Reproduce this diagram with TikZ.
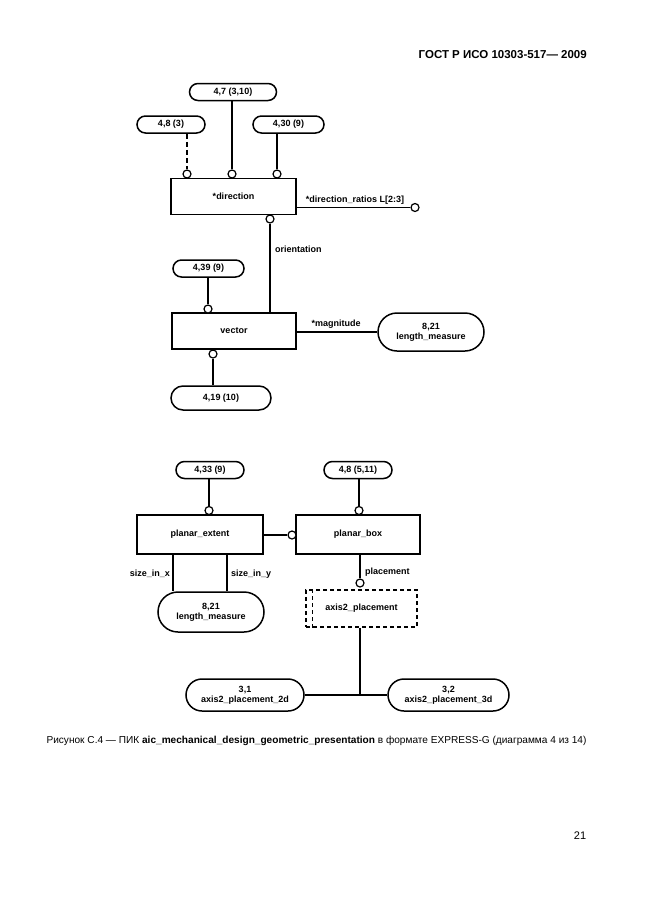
\documentclass[tikz,border=0pt]{standalone}
\usepackage{fontspec}
\setmainfont{Liberation Sans}
\usetikzlibrary{shapes.misc}
\definecolor{gostblack}{RGB}{0,0,0}

\begin{document}
\begin{tikzpicture}[x=1pt, y=-1pt, gostblack,
    ent/.style={draw, line width=1.5pt, rectangle, minimum width=125pt, minimum height=36pt,
                font=\fontsize{9}{10}\selectfont\bfseries},
    refbox/.style={draw, line width=1.5pt, rounded rectangle, minimum height=17pt, inner sep=1pt,
                   align=center, font=\fontsize{9}{10}\selectfont\bfseries},
    oc/.style={draw, line width=1.2pt, circle, fill=white, minimum size=8pt, inner sep=0pt},
    rel/.style={line width=1.2pt},
    thinrel/.style={line width=0.8pt},
    thickrel/.style={line width=2.8pt},
    lbl/.style={inner sep=1pt, font=\fontsize{9}{10}\selectfont\bfseries}]
    \useasboundingbox (0,0) rectangle (646,913);

    % Header
    \node[anchor=east, inner sep=0pt, font=\fontsize{11.5}{13}\selectfont\bfseries] (head) at (587,55) {ГОСТ Р ИСО 10303-517— 2009};

    % direction
    \node[refbox, minimum width=89pt] (r47) at (233,92) {4,7 (3,10)};
    \node[refbox, minimum width=70pt] (r48) at (171,124.5) {4,8 (3)};
    \node[refbox, minimum width=73pt] (r430) at (288.5,124.5) {4,30 (9)};
    \node[ent] (dir) at (233.5,196.5) {*direction};
    \node[oc] (cd1) at (187,174) {};
    \node[oc] (cd2) at (232,174) {};
    \node[oc] (cd3) at (277,174) {};
    \draw[rel, dash pattern=on 5pt off 3pt] (r48.south -| cd1) -- (cd1.north);
    \draw[rel] (r47.south -| cd2) -- (cd2.north);
    \draw[thickrel] (r430.south -| cd3) -- (cd3.north);
    \node[oc] (cdr) at (415,207.5) {};
    \draw[thinrel] (dir.east |- cdr) -- (cdr.west);
    \node[lbl] (ldr) at (355,200) {*direction\_ratios L[2:3]};

    % vector
    \node[oc] (cor) at (270,219) {};
    \node[refbox, minimum width=73pt] (r439) at (208.5,268.5) {4,39 (9)};
    \node[ent, minimum width=124pt] (vec) at (234,331) {vector};
    \draw[rel] (cor.south) -- (vec.north -| cor);
    \node[lbl, anchor=west] (lor) at (274,249) {orientation};
    \node[oc] (cv1) at (208,309) {};
    \draw[thickrel] (r439.south -| cv1) -- (cv1.north);
    \node[refbox, minimum width=108pt, minimum height=38pt] (lm1) at (431,332) {8,21\\length\_measure};
    \draw[rel] (vec.east |- lm1) -- (lm1.west);
    \node[lbl] (lmag) at (336,324) {*magnitude};
    \node[oc] (cv2) at (213,354) {};
    \node[refbox, minimum width=102pt, minimum height=24pt] (r419) at (221,398) {4,19 (10)};
    \draw[rel] (cv2.south) -- (r419.north -| cv2);

    % planar_extent and planar_box
    \node[refbox, minimum width=70pt] (r433) at (210,470) {4,33 (9)};
    \node[refbox, minimum width=70pt] (r48b) at (358,470) {4,8 (5,11)};
    \node[ent, minimum width=126pt, minimum height=39pt] (pe) at (200,534.5) {planar\_extent};
    \node[ent, minimum width=124pt, minimum height=39pt] (pb) at (358,534.5) {planar\_box};
    \node[oc] (cpe) at (209,510.5) {};
    \draw[thickrel] (r433.south -| cpe) -- (cpe.north);
    \node[oc] (cpb) at (359,510.5) {};
    \draw[rel] (r48b.south -| cpb) -- (cpb.north);
    \node[oc] (cpx) at (292,535) {};
    \draw[thickrel] (pe.east |- cpx) -- (cpx.west);

    \node[refbox, minimum width=108pt, minimum height=40pt] (lm2) at (211,612) {8,21\\length\_measure};
    \draw[rel] ([xshift=-27pt]pe.south) -- ([xshift=-27pt]pe.south |- lm2.north);
    \draw[rel] ([xshift=27pt]pe.south) -- ([xshift=27pt]pe.south |- lm2.north);
    \node[lbl, anchor=east] (lsx) at (171,574) {size\_in\_x};
    \node[lbl, anchor=west] (lsy) at (230,574) {size\_in\_y};

    % placement
    \node[oc] (cpl) at (360,583) {};
    \draw[rel] (pb.south -| cpl) -- (cpl.north);
    \node[lbl, anchor=west] (lpl) at (364,572) {placement};
    \node[ent, dash pattern=on 4pt off 3pt, minimum width=111pt, minimum height=37pt] (ap) at (361.5,608.5) {axis2\_placement};
    \draw[rel, dash pattern=on 4pt off 3pt] ([xshift=7pt]ap.north west) -- ([xshift=7pt]ap.south west);

    \node[refbox, minimum width=120pt, minimum height=32pt] (a2d) at (245,695) {3,1\\axis2\_placement\_2d};
    \node[refbox, minimum width=123pt, minimum height=32pt] (a3d) at (448.5,695) {3,2\\axis2\_placement\_3d};
    \coordinate (jn) at (cpl |- a2d);
    \draw[line width=2pt] (ap.south -| cpl) -- (jn);
    \draw[rel] (a2d.east) -- (a3d.west);

    % Caption and page number
    \node[font=\fontsize{10.1}{12}\selectfont] (cap) at (316.5,741)
        {Рисунок С.4 — ПИК \textbf{aic\_mechanical\_design\_geometric\_presentation} в формате EXPRESS-G (диаграмма 4 из 14)};
    \node[font=\fontsize{11}{13}\selectfont] (pg) at (580,836) {21};
\end{tikzpicture}
\end{document}
